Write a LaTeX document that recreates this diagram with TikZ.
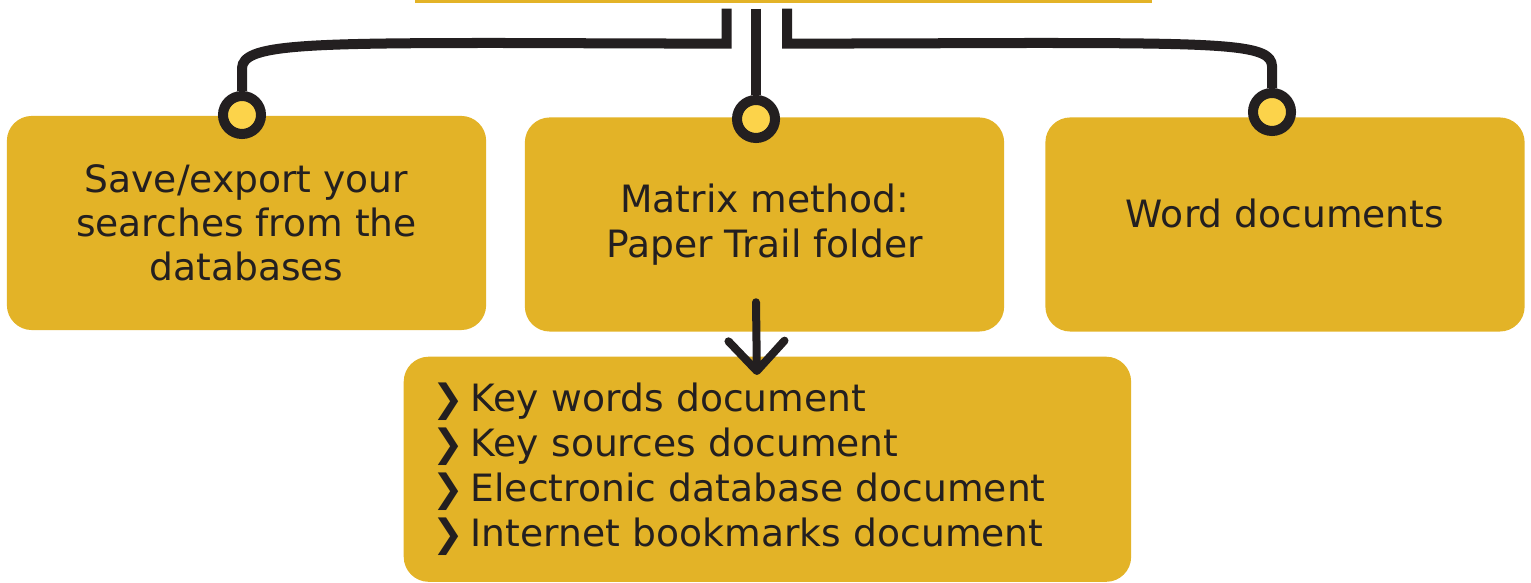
\documentclass[tikz,border=0pt]{standalone}
\usepackage{fontspec}
\setmainfont{DejaVu Sans}
\usepackage{xcolor}
\usetikzlibrary{shapes,positioning,calc,arrows.meta}

\definecolor{boxgold}{HTML}{E3B327}
\definecolor{dotgold}{HTML}{FCD34A}
\definecolor{inkdark}{HTML}{231F20}

\newcommand{\chevbullet}{\makebox[0.38cm][l]{\bfseries ❯}}

\tikzset{
    card/.style={fill=boxgold, rounded corners=0.25cm, minimum width=4.79cm, minimum height=2.14cm,
        align=center, text=inkdark, inner sep=0pt, font=\fontsize{10.7}{12.6}\selectfont},
    pin/.style={circle, draw=inkdark, line width=0.1cm, fill=dotgold, minimum size=0.38cm, inner sep=0pt},
    wire/.style={draw=inkdark, line width=0.1cm},
}

\begin{document}
\begin{tikzpicture}[x=0.01cm, y=-0.01cm]
    \useasboundingbox (0,0) rectangle (1531,583);

    % cut-off box at the top
    \node[fill=boxgold, minimum width=7.37cm, minimum height=0.03cm, inner sep=0pt] (head) at (783.5,1.5) {};

    \node[card] (save) at (246.5,223) {Save/export your\\searches from the\\databases};
    \node[card] (matrix) at (764.5,224.5) {Matrix method:\\Paper Trail folder};
    \node[card, text depth=0.22cm] (word) at (1285,224.5) {Word documents};
    \node[card, anchor=north west, minimum width=7.27cm, minimum height=2.25cm, text width=6.69cm,
        align=left, font=\fontsize{10.7}{12.8}\selectfont] (list) at (403,356)
        {\chevbullet Key words document\\
         \chevbullet Key sources document\\
         \chevbullet Electronic database document\\
         \chevbullet Internet bookmarks document};

    \node[pin] (pl) at (242,115) {};
    \node[pin] (pm) at (756,119) {};
    \node[pin] (pr) at (1272,112) {};

    % brackets from the top
    \draw[wire] ($(head.south)+(-57,5)$) -- ++(0,35) -- (500,43) .. controls (300,43) and (243,45) .. (242,68) -- (pl.north);
    \draw[wire] ($(head.south)+(-27.5,5)$) -- (pm.north);
    \draw[wire] ($(head.south)+(3.5,5)$) -- ++(0,35) -- (1030,43) .. controls (1230,43) and (1271,45) .. (1272,66) -- (pr.north);

    \draw[wire, line width=0.08cm, line cap=round, -{Straight Barb[length=0.30cm, width=0.56cm, round]}]
        ($(matrix.south)+(-8.5,-30)$) -- ($(list.north)+(-10.5,19)$);
\end{tikzpicture}
\end{document}
